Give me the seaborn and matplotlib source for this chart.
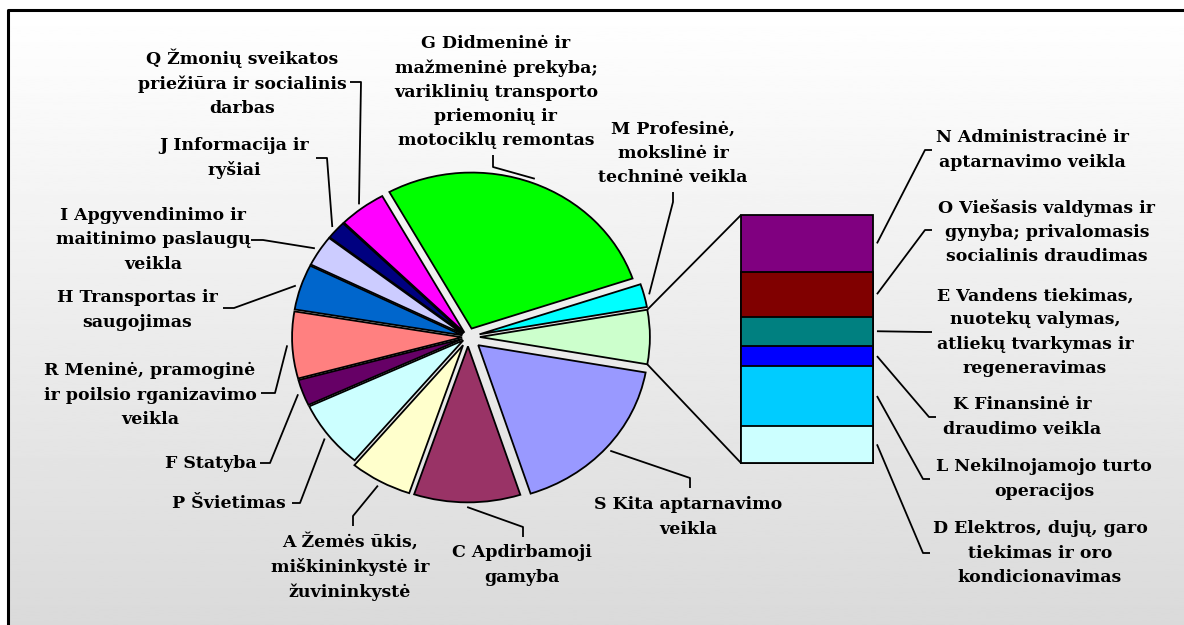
import numpy as np
import matplotlib
matplotlib.use('Agg')
import matplotlib.pyplot as plt
import seaborn as sns

# Pie slices, counter-clockwise from the "other" slice (centred at 0 deg)
pieCodes = ['Other', 'M', 'G', 'Q', 'J', 'I', 'H', 'R', 'F', 'P', 'A', 'C', 'S']
pieLabels = [
    None,
    'M Profesinė,\nmokslinė ir\ntechninė veikla',
    'G Didmeninė ir\nmažmeninė prekyba;\nvariklinių transporto\npriemonių ir\nmotociklų remontas',
    'Q Žmonių sveikatos\npriežiūra ir socialinis\ndarbas',
    'J Informacija ir\nryšiai',
    'I Apgyvendinimo ir\nmaitinimo paslaugų\nveikla',
    'H Transportas ir\nsaugojimas',
    'R Meninė, pramoginė\nir poilsio rganizavimo\nveikla',
    'F Statyba',
    'P Švietimas',
    'A Žemės ūkis,\nmiškininkystė ir\nžuvininkystė',
    'C Apdirbamoji\ngamyba',
    'S Kita aptarnavimo\nveikla',
]
pieShares = [None, 2.4, 27.8, 4.5, 1.9, 3.2, 4.7, 6.9, 2.7, 7.0, 5.9, 10.1, 17.2]
pieColors = ['#CCFFCC', '#00FFFF', '#00FF00', '#FF00FF', '#000080', '#CCCCFF',
             '#0066CC', '#FF8080', '#660066', '#CCFFFF', '#FFFFCC', '#993366', '#9999FF']

# Secondary bar, bottom to top
barLabels = [
    'D Elektros, dujų, garo\ntiekimas ir oro\nkondicionavimas',
    'L Nekilnojamojo turto\noperacijos',
    'K Finansinė ir\ndraudimo veikla',
    'E Vandens tiekimas,\nnuotekų valymas,\natliekų tvarkymas ir\nregeneravimas',
    'O Viešasis valdymas ir\ngynyba; privalomasis\nsocialinis draudimas',
    'N Administracinė ir\naptarnavimo veikla',
]
barShares = [0.84, 1.34, 0.46, 0.66, 1.01, 1.28]
barColors = ['#CCFFFF', '#00CCFF', '#0000FF', '#008080', '#800000', '#800080']

pieShares[0] = sum(barShares)

# layout (pixels): label centre, tick start, tick end
pieExplode = [0.07, 0.07, 0.058, 0.035, 0.035, 0.035, 0.035, 0.035, 0.035, 0.035, 0.06, 0.06, 0.08]
pieLayout = [
    None,
    ((673, 153), (673, 192), (673, 202)),
    ((496, 92), (493, 155), (493, 167)),
    ((242, 83), (350, 82), (361, 82)),
    ((234, 158), (316, 158), (327, 158)),
    ((153, 240), (251, 240), (263, 240)),
    ((137, 310), (223, 308), (234, 308)),
    ((150, 395), (261, 393), (275, 393)),
    ((211, 463), (260, 463), (270, 463)),
    ((229, 503), (292, 503), (300, 503)),
    ((350, 567), (353, 526), (353, 516)),
    ((522, 565), (523, 537), (523, 527)),
    ((688, 517), (690, 488), (690, 478)),
]
barLayout = [
    ((1040, 553), (930, 553), (923, 553)),
    ((1044, 479), (930, 479), (923, 479)),
    ((1022, 417), (936, 417), (929, 417)),
    ((1035, 332), (932, 332), (925, 332)),
    ((1047, 232), (932, 230), (925, 230)),
    ((1032, 150), (932, 150), (925, 150)),
]

W, H = 1184, 625
fig = plt.figure(figsize=(W / 100, H / 100), dpi=100)

# background with gradient and frame
axBg = fig.add_axes([0, 0, 1, 1])
axBg.set_xlim(0, W)
axBg.set_ylim(H, 0)
axBg.axis('off')
grad = np.linspace(1.0, 0.855, 256).reshape(-1, 1)
axBg.imshow(grad, cmap='gray', vmin=0, vmax=1, aspect='auto', extent=(8, W, H, 10))
axBg.plot([8, 8, W], [H, 10, 10], color='black', lw=2.2, solid_capstyle='butt')

# pie: slightly elliptical, like the original
cx, cy, ra, rb, lim = 468, 337, 170, 156, 1.4
axPie = fig.add_axes([(cx - ra * lim) / W, (H - cy - rb * lim) / H,
                      2 * ra * lim / W, 2 * rb * lim / H])
total = sum(pieShares)
start = -pieShares[0] / total * 360 / 2
axPie.pie(pieShares, colors=pieColors, explode=pieExplode, startangle=start,
          counterclock=True, wedgeprops=dict(edgecolor='black', linewidth=1.3))
axPie.set_aspect('auto')
axPie.set_xlim(-lim, lim)
axPie.set_ylim(-lim, lim)
axPie.axis('off')

# stacked bar
bx0, bx1, by0, by1 = 741, 873, 215, 463
axBar = fig.add_axes([bx0 / W, (H - by1) / H, (bx1 - bx0) / W, (by1 - by0) / H])
cum = np.cumsum(barShares)
for i in reversed(range(len(barShares))):
    sns.barplot(x=[0], y=[cum[i]], color=barColors[i], saturation=1, width=1,
                edgecolor='black', linewidth=1.3, ax=axBar)
for p in axBar.patches:
    p.set_clip_on(False)
axBar.set_xlim(-0.5, 0.5)
axBar.set_ylim(0, cum[-1])
axBar.axis('off')

# overlay for lines and labels
axTop = fig.add_axes([0, 0, 1, 1], facecolor='none')
axTop.set_xlim(0, W)
axTop.set_ylim(H, 0)
axTop.axis('off')


def toPx(ax, x, y):
    d = ax.transData.transform((x, y))
    return axTop.transData.inverted().transform(d)


fontKw = dict(family='DejaVu Serif', weight='bold', size=12.5, ha='center',
              va='center', linespacing=1.55, color='black')
lineKw = dict(color='black', lw=1.3, solid_capstyle='butt')

# connectors between the "other" slice and the bar
half = np.deg2rad(pieShares[0] / total * 360 / 2)
e0 = pieExplode[0]
for sgn, by in [(1, cum[-1]), (-1, 0)]:
    p1 = toPx(axPie, e0 + np.cos(half), sgn * np.sin(half))
    p2 = toPx(axBar, -0.5, by)
    axTop.plot([p1[0], p2[0]], [p1[1], p2[1]], **lineKw)

# pie labels
acc = 0
for i, val in enumerate(pieShares):
    mid = np.deg2rad(start + (acc + val / 2) / total * 360)
    acc += val
    if pieLabels[i] is None:
        continue
    (tx, ty), (ax0, ay0), (ax1, ay1) = pieLayout[i]
    r = 1 + pieExplode[i] + 0.03
    px, py = toPx(axPie, r * np.cos(mid), r * np.sin(mid))
    axTop.plot([ax0, ax1, px], [ay0, ay1, py], **lineKw)
    axTop.text(tx, ty, pieLabels[i], **fontKw)

# bar labels
for i, val in enumerate(barShares):
    (tx, ty), (ax0, ay0), (ax1, ay1) = barLayout[i]
    px, py = toPx(axBar, 0.53, cum[i] - val / 2)
    axTop.plot([ax0, ax1, px], [ay0, ay1, py], **lineKw)
    axTop.text(tx, ty, barLabels[i], **fontKw)

fig.savefig('out.png', dpi=100)
